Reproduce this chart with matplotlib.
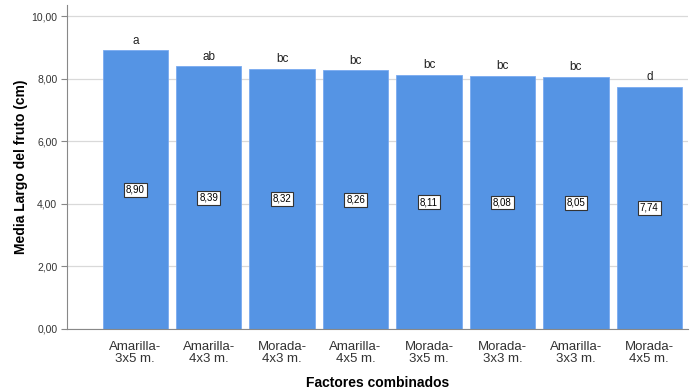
import matplotlib
matplotlib.use('Agg')
import matplotlib.pyplot as plt

plt.rcParams['font.family'] = ['Liberation Sans', 'DejaVu Sans']

categorias = ['Amarilla-\n3x5 m.', 'Amarilla-\n4x3 m.', 'Morada-\n4x3 m.', 'Amarilla-\n4x5 m.',
              'Morada-\n3x5 m.', 'Morada-\n3x3 m.', 'Amarilla-\n3x3 m.', 'Morada-\n4x5 m.']
medias = [8.90, 8.39, 8.32, 8.26, 8.11, 8.08, 8.05, 7.74]
letras = ['a', 'ab', 'bc', 'bc', 'bc', 'bc', 'bc', 'd']
yticks = [0, 2, 4, 6, 8, 10]

fig = plt.figure(figsize=(6.98, 3.92), dpi=100)
ax = fig.add_axes([0.096, 0.161, 0.89, 0.826])

x = list(range(len(categorias)))
ax.bar(x, medias, width=0.89, color='#5594e4', edgecolor='#7aaaf0', linewidth=0.6, zorder=2)

for xi, m, l in zip(x, medias, letras):
    ax.text(xi, m / 2, ('%.2f' % m).replace('.', ','), ha='center', va='center',
            fontsize=7, zorder=3,
            bbox=dict(boxstyle='square,pad=0.2', facecolor='white', edgecolor='#333333', linewidth=0.8))
    ax.text(xi, m + 0.12, l, ha='center', va='bottom', fontsize=8.5, color='#222222', zorder=3)

ax.set_xlim(-0.93, 7.53)
ax.set_ylim(0, 10.35)
ax.set_yticks(yticks)
ax.set_yticklabels([('%.2f' % v).replace('.', ',') for v in yticks])
ax.set_xticks(x)
ax.set_xticklabels(categorias, fontsize=9.5, color='#333333', linespacing=0.95)
ax.tick_params(axis='y', labelsize=7.5, colors='#333333', length=4, color='#888888', pad=3)
ax.tick_params(axis='x', length=0, pad=9)

ax.yaxis.grid(True, color='#d9d9d9', linewidth=0.9, zorder=0)
ax.set_axisbelow(True)
for s in ['top', 'right']:
    ax.spines[s].set_visible(False)
ax.spines['left'].set_color('#888888')
ax.spines['bottom'].set_color('#888888')

ax.set_ylabel('Media Largo del fruto (cm)', fontsize=10, fontweight='bold')
ax.set_xlabel('Factores combinados', fontsize=10, fontweight='bold', labelpad=8)
ax.yaxis.set_label_coords(-0.062, 0.5)

plt.savefig('out.png', dpi=100)
